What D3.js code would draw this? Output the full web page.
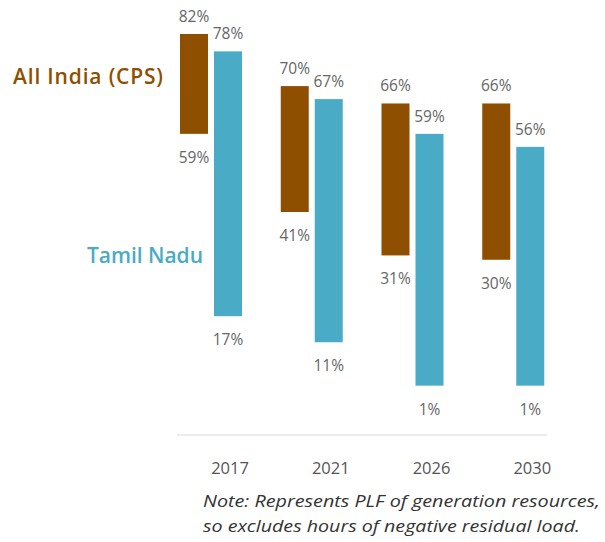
<!DOCTYPE html>
<html>
<head>
<meta charset="utf-8">
<script src="https://cdn.jsdelivr.net/npm/d3@7"></script>
<style>
  body { margin: 0; background: #fff; }
  text { font-family: "Open Sans", sans-serif; }
</style>
</head>
<body>
<div id="chart"></div>
<script>
// PLF ranges (max / min) by year
const years = ['2017', '2021', '2026', '2030'];
const seriesNames = ['All India (CPS)', 'Tamil Nadu'];
const indiaHigh = [82, 70, 66, 66];
const indiaLow = [59, 41, 31, 30];
const tnHigh = [78, 67, 59, 56];
const tnLow = [17, 11, 1, 1];
const noteLines = [
  'Note: Represents PLF of generation resources,',
  'so excludes hours of negative residual load.'
];

let w = 605, h = 542;
let colors = ['#8f4f00', '#4aabc6'];

let svg = d3.select('#chart').append('svg')
  .attr('width', w)
  .attr('height', h);

let xScale = d3.scaleBand()
  .domain(years)
  .range([177, 580])
  .paddingInner(0)
  .paddingOuter(0);

let yScale = d3.scaleLinear()
  .domain([0, 82])
  .range([390, 34]);

let barWidth = 28;
let barGap = 6;

let series = [
  { name: seriesNames[0], high: indiaHigh, low: indiaLow, off: 3 },
  { name: seriesNames[1], high: tnHigh, low: tnLow, off: 3 + barWidth + barGap }
];

series.forEach(function (s, si) {
  let rows = years.map((y, i) => ({ year: y, high: s.high[i], low: s.low[i] }));
  let g = svg.append('g');

  g.selectAll('rect')
    .data(rows)
    .enter()
    .append('rect')
    .attr('x', d => xScale(d.year) + s.off)
    .attr('y', d => yScale(d.high))
    .attr('width', barWidth)
    .attr('height', d => yScale(d.low) - yScale(d.high))
    .attr('fill', colors[si]);

  g.selectAll('.top')
    .data(rows)
    .enter()
    .append('text')
    .attr('x', d => xScale(d.year) + s.off + barWidth / 2)
    .attr('y', d => yScale(d.high) - 12)
    .attr('text-anchor', 'middle')
    .style('font-size', '15.5px')
    .style('fill', '#666')
    .text(d => d.high + '%');

  g.selectAll('.bot')
    .data(rows)
    .enter()
    .append('text')
    .attr('x', d => xScale(d.year) + s.off + barWidth / 2)
    .attr('y', d => yScale(d.low) + 29)
    .attr('text-anchor', 'middle')
    .style('font-size', '15.5px')
    .style('fill', '#666')
    .text(d => d.low + '%');
});

// baseline
svg.append('line')
  .attr('x1', 177)
  .attr('x2', 547)
  .attr('y1', 435)
  .attr('y2', 435)
  .attr('stroke', '#e6e6e6')
  .attr('stroke-width', 1.5);

// year labels
svg.selectAll('.year')
  .data(years)
  .enter()
  .append('text')
  .attr('x', d => xScale(d) + 53)
  .attr('y', 474)
  .attr('text-anchor', 'middle')
  .style('font-size', '16.5px')
  .style('fill', '#555')
  .text(d => d);

// series labels
svg.append('text')
  .attr('x', 13)
  .attr('y', 84)
  .attr('textLength', 150)
  .style('font-size', '21px')
  .style('font-weight', 600)
  .style('fill', colors[0])
  .text(seriesNames[0]);

svg.append('text')
  .attr('x', 87)
  .attr('y', 263)
  .attr('textLength', 116)
  .style('font-size', '21px')
  .style('font-weight', 600)
  .style('fill', colors[1])
  .text(seriesNames[1]);

// note
svg.selectAll('.note')
  .data(noteLines)
  .enter()
  .append('text')
  .attr('x', 203)
  .attr('y', (d, i) => 507 + i * 25)
  .attr('textLength', (d, i) => i === 0 ? 397 : 377)
  .attr('lengthAdjust', 'spacingAndGlyphs')
  .style('font-size', '17px')
  .style('font-style', 'italic')
  .style('fill', '#333')
  .text(d => d);
</script>
</body>
</html>
